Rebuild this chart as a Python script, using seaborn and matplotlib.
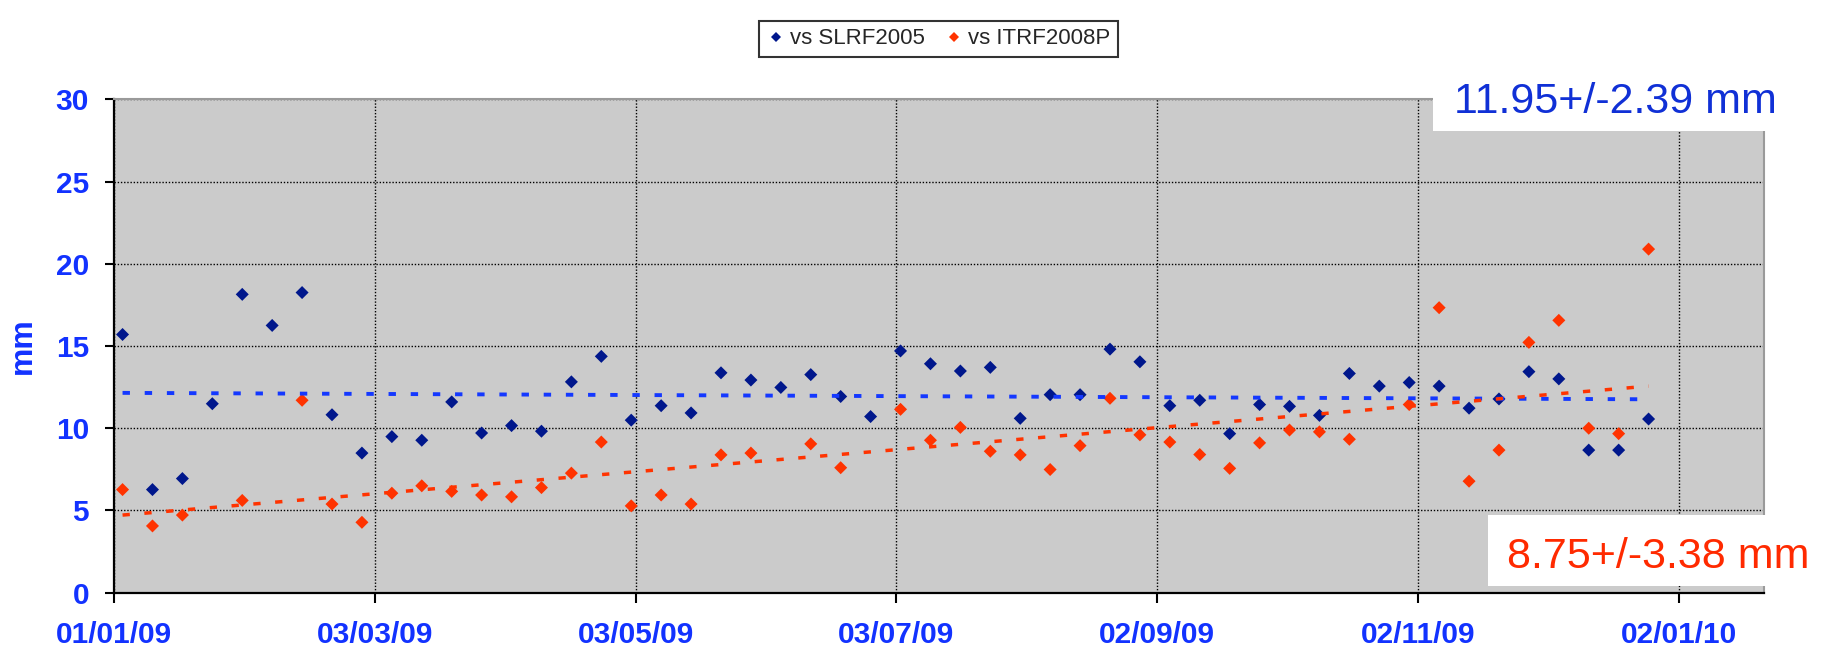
import numpy as np
import pandas as pd
import matplotlib
matplotlib.use('Agg')
import matplotlib.pyplot as plt
import matplotlib.dates as mdates
from matplotlib.lines import Line2D
from matplotlib.patches import Rectangle
import seaborn as sns

# weekly solutions, first one on 03/01/09
first_week = '2009-01-03'
n_weeks = 52

slrf2005 = [15.7, 6.27, 6.94, 11.49, 18.14, 16.25, 18.25, 10.82, 8.49, 9.49,
            9.27, 11.6, 9.71, 10.16, 9.82, 12.82, 14.37, 10.49, 11.37, 10.93,
            13.37, 12.93, 12.48, 13.26, 11.93, 10.71, 14.7, 13.92, 13.48, 13.7,
            10.6, 12.04, 12.04, 14.81, 14.04, 11.37, 11.7, 9.67, 11.44, 11.33,
            10.78, 13.33, 12.56, 12.78, 12.56, 11.22, 11.78, 13.44, 13.0, 8.67,
            8.67, 10.56]
itrf2008p = [6.27, 4.06, 4.72, np.nan, 5.61, np.nan, 11.7, 5.39, 4.28, 6.05,
             6.5, 6.16, 5.94, 5.83, 6.39, 7.27, 9.16, 5.28, 5.94, 5.39,
             8.38, 8.49, np.nan, 9.05, 7.6, np.nan, 11.15, 9.27, 10.05, 8.6,
             8.38, 7.49, 8.94, 11.82, 9.6, 9.16, 8.4, 7.56, 9.11, 9.89,
             9.78, 9.33, np.nan, 11.44, 17.33, 6.78, 8.67, 15.22, 16.56, 10.0,
             9.67, 20.89]

# linear trend lines (end points)
trend_dates = ['2009-01-03', '2009-12-26']
slrf_trend = [12.15, 11.76]
itrf_trend = [4.72, 12.56]

tick_dates = ['2009-01-01', '2009-03-03', '2009-05-03', '2009-07-03',
              '2009-09-02', '2009-11-02', '2010-01-02']
x_range = ['2009-01-01', '2010-01-22']

series_names = ['vs SLRF2005', 'vs ITRF2008P']
marker_colors = ['#00178c', '#ff3300']
trend_colors = ['#1438ff', '#ff3300']
text_blue = '#1232ff'

weeks = pd.date_range(first_week, periods=n_weeks, freq='7D')
df = pd.concat([
    pd.DataFrame({'date': weeks, 'mm': slrf2005, 'series': series_names[0]}),
    pd.DataFrame({'date': weeks, 'mm': itrf2008p, 'series': series_names[1]}),
]).dropna()

sns.set_style('white')
plt.rcParams['font.family'] = ['Liberation Sans', 'DejaVu Sans']

W, H = 1835, 652
fig = plt.figure(figsize=(W / 100, H / 100), dpi=100)
ax = fig.add_axes([114 / W, 1 - 592.7 / H, 1650 / W, 493.4 / H])
ax.set_facecolor('#cbcbcb')

sns.scatterplot(data=df, x='date', y='mm', hue='series', hue_order=series_names,
                palette=marker_colors, marker='D', s=44, linewidth=0,
                legend=False, ax=ax, zorder=3)

td = pd.to_datetime(trend_dates)
ax.plot(td, slrf_trend, color=trend_colors[0], lw=2.8, ls=(0, (1.9, 3.8)), zorder=4)
ax.plot(td, itrf_trend, color=trend_colors[1], lw=2.5, ls=(0, (2.1, 4.2)), zorder=4)

ax.set_xlim(pd.to_datetime(x_range[0]), pd.to_datetime(x_range[1]))
ax.set_ylim(0, 30)
ax.set_yticks(range(0, 31, 5))
ax.set_xticks(pd.to_datetime(tick_dates))
ax.xaxis.set_major_formatter(mdates.DateFormatter('%d/%m/%y'))

ax.grid(True, color='black', lw=1.0, ls=(0, (1, 1.3)))
ax.set_axisbelow(True)

for side in ['left', 'bottom']:
    ax.spines[side].set_color('black')
    ax.spines[side].set_linewidth(1.6)
for side in ['top', 'right']:
    ax.spines[side].set_color('#9a9a9a')
    ax.spines[side].set_linewidth(1.5)
    ax.spines[side].set_visible(True)

ax.tick_params(axis='y', direction='out', length=6.5, width=1.5, color='black',
               pad=11.5, labelsize=21.5, labelcolor=text_blue, left=True)
ax.tick_params(axis='x', direction='out', length=7.2, width=1.5, color='black',
               pad=13, labelsize=21.5, labelcolor=text_blue, bottom=True)
for lab in ax.get_xticklabels() + ax.get_yticklabels():
    lab.set_fontweight('bold')

ax.set_xlabel('')
ax.set_ylabel('mm', fontsize=23, fontweight='bold', color=text_blue)
ax.yaxis.set_label_coords(-0.046, 0.5)

# legend on top
handles = [Line2D([], [], ls='none', marker='D', ms=5.2, mew=0, color=c)
           for c in marker_colors]
leg = fig.legend(handles, series_names, loc='center',
                 bbox_to_anchor=(938.7 / W, 1 - 39 / H), ncol=2, fontsize=16,
                 frameon=True, fancybox=False, edgecolor='black',
                 handletextpad=0.25, columnspacing=0.9, handlelength=0.8,
                 borderpad=0.35)
leg.get_frame().set_linewidth(1.5)

# white boxes with the mean +/- rms values
fig.add_artist(Rectangle((1432.7 / W, 1 - 130.7 / H), (W - 1432.7) / W, 60 / H,
                         transform=fig.transFigure, facecolor='white',
                         edgecolor='none', zorder=10))
fig.text(1615 / W, 1 - 113.3 / H, '11.95+/-2.39 mm', color='#1030d6',
         fontsize=31, ha='center', va='baseline', zorder=11)

fig.add_artist(Rectangle((1487.5 / W, 1 - 585.7 / H), (W - 1487.5) / W, 71 / H,
                         transform=fig.transFigure, facecolor='white',
                         edgecolor='none', zorder=10))
fig.text(1658 / W, 1 - 567.6 / H, '8.75+/-3.38 mm', color='#ff2a00',
         fontsize=31, ha='center', va='baseline', zorder=11)

fig.savefig('out.png', dpi=100)
